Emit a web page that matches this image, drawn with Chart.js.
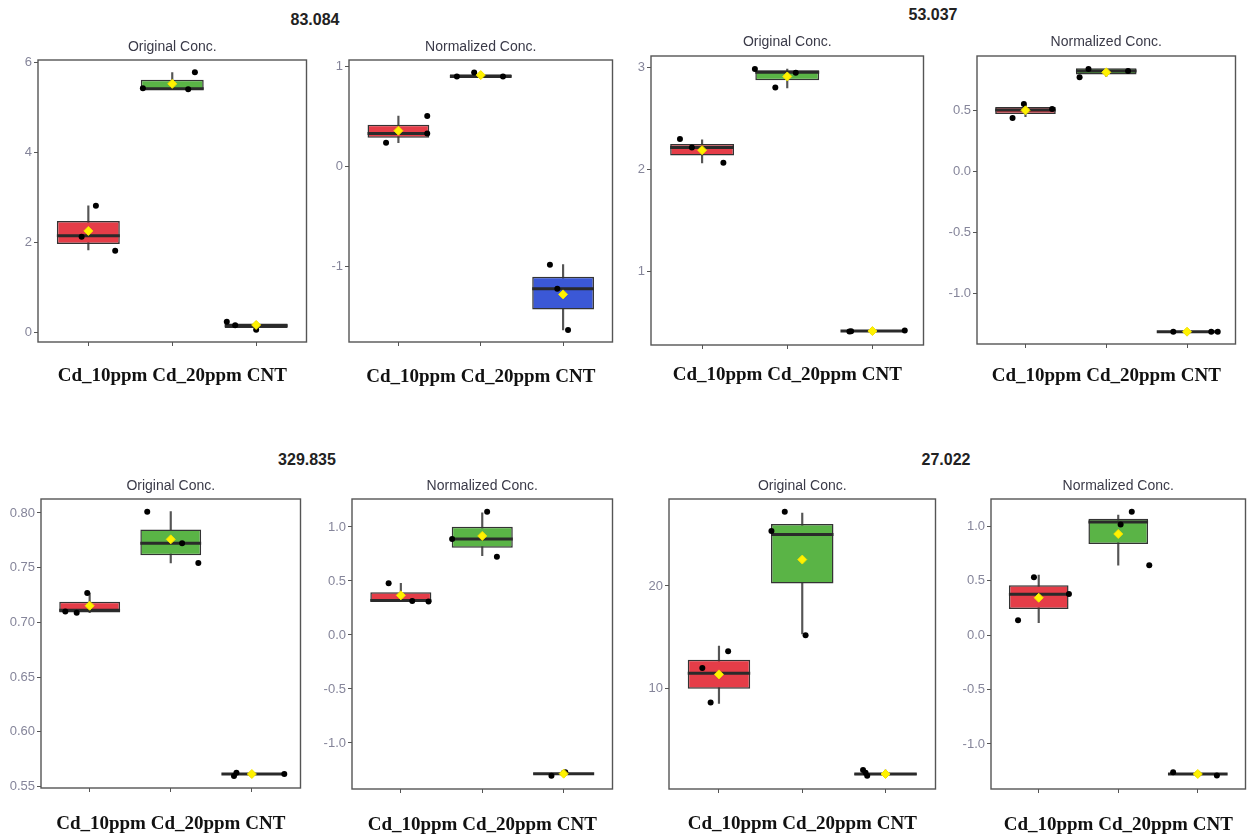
<!DOCTYPE html>
<html><head><meta charset="utf-8">
<script src="https://cdn.jsdelivr.net/npm/chart.js@4/dist/chart.umd.min.js"></script>
<style>
html,body{margin:0;padding:0;background:#fff;width:1248px;height:839px;overflow:hidden;position:relative;font-family:"Liberation Sans",Arial,sans-serif;}
canvas{position:absolute;}
.grp{position:absolute;font-weight:bold;font-size:16px;color:#222;transform:translate(-50%,-50%);white-space:nowrap;}
</style></head><body>
<script>
// ---------- DATA ----------
const groupTitles = ["83.084", "53.037", "329.835", "27.022"];
const panelTitles = ["Original Conc.", "Normalized Conc.", "Original Conc.", "Normalized Conc.",
                     "Original Conc.", "Normalized Conc.", "Original Conc.", "Normalized Conc."];
const categories = ["Cd_10ppm", "Cd_20ppm", "CNT"];

// box statistics per panel: [Cd_10ppm, Cd_20ppm, CNT]
const q1 = [
  [1.97, 5.40, 0.10], [0.29, 0.894, -1.427], [2.137, 2.876, 0.411], [0.472, 0.797, -1.317],
  [0.7091, 0.7614, 0.5608], [0.309, 0.808, -1.29], [10.0, 20.23, 1.6], [0.239, 0.835, -1.28]];
const med = [
  [2.15, 5.42, 0.15], [0.333, 0.903, -1.22], [2.216, 2.955, 0.414], [0.505, 0.825, -1.315],
  [0.7110, 0.7723, 0.5613], [0.32, 0.889, -1.285], [11.5, 24.99, 1.72], [0.373, 1.038, -1.275]];
const q3 = [
  [2.48, 5.62, 0.20], [0.42, 0.925, -1.10], [2.25, 2.974, 0.418], [0.53, 0.847, -1.313],
  [0.7188, 0.7848, 0.5618], [0.395, 1.003, -1.28], [12.82, 26.02, 1.8], [0.456, 1.066, -1.27]];
const lo = [
  [1.84, 5.40, 0.06], [0.24, 0.894, -1.633], [2.065, 2.80, 0.41], [0.45, 0.78, -1.317],
  [0.7088, 0.7543, 0.5594], [0.309, 0.735, -1.303], [8.58, 15.34, 1.5], [0.113, 0.64, -1.29]];
const hi = [
  [2.82, 5.78, 0.24], [0.507, 0.943, -0.98], [2.29, 2.986, 0.42], [0.55, 0.841, -1.313],
  [0.7268, 0.8012, 0.5625], [0.479, 1.13, -1.272], [14.15, 27.09, 2.11], [0.55, 1.10, -1.26]];
const means = [
  [2.26, 5.53, 0.17], [0.36, 0.916, -1.277], [2.19, 2.913, 0.414], [0.502, 0.814, -1.315],
  [0.7152, 0.7759, 0.5613], [0.367, 0.917, -1.284], [11.40, 22.56, 1.72], [0.342, 0.927, -1.275]];
// individual samples per panel / category
const samples = [
  [[2.82, 2.13, 1.82], [5.43, 5.41, 5.79], [0.24, 0.16, 0.06]],
  [[0.24, 0.507, 0.333], [0.903, 0.943, 0.903], [-0.98, -1.22, -1.633]],
  [[2.30, 2.216, 2.065], [2.986, 2.804, 2.95], [0.41, 0.413, 0.42]],
  [[0.44, 0.554, 0.513], [0.773, 0.841, 0.825], [-1.315, -1.315, -1.316]],
  [[0.7100, 0.7088, 0.7268], [0.8012, 0.7723, 0.7543], [0.5594, 0.5625, 0.5613]],
  [[0.479, 0.315, 0.309], [0.889, 1.142, 0.725], [-1.303, -1.278, -1.272]],
  [[12.01, 8.68, 13.66], [25.34, 27.22, 15.21], [2.11, 1.85, 1.55]],
  [[0.135, 0.529, 0.376], [1.015, 1.131, 0.64], [-1.26, -1.29, -1.275]]];
// horizontal jitter of the samples (category units)
const jitter = [
  [[0.09, -0.08, 0.32], [-0.35, 0.19, 0.27], [-0.35, -0.25, 0.0]],
  [[-0.15, 0.35, 0.35], [-0.29, -0.08, 0.27], [-0.16, -0.07, 0.06]],
  [[-0.26, -0.12, 0.25], [-0.38, -0.14, 0.10], [-0.27, -0.25, 0.38]],
  [[-0.16, -0.02, 0.33], [-0.33, -0.22, 0.27], [-0.17, 0.30, 0.38]],
  [[-0.30, -0.16, -0.03], [-0.29, 0.14, 0.34], [-0.22, -0.19, 0.40]],
  [[-0.15, 0.14, 0.34], [-0.37, 0.06, 0.18], [-0.15, 0.0, 0.02]],
  [[-0.20, -0.10, 0.11], [-0.37, -0.21, 0.04], [-0.27, -0.24, -0.22]],
  [[-0.26, -0.06, 0.38], [0.03, 0.17, 0.39], [-0.31, 0.24, 0.0]]];
// y axis ranges and ticks
const yMin = [-0.21, -1.753, 0.277, -1.416, 0.5485, -1.426, 0.26, -1.413];
const yMax = [6.06, 1.067, 3.114, 0.948, 0.8128, 1.259, 28.45, 1.248];
const yTicks = [[0, 2, 4, 6], [-1, 0, 1], [1, 2, 3], [-1, -0.5, 0, 0.5],
  [0.55, 0.60, 0.65, 0.70, 0.75, 0.80], [-1, -0.5, 0, 0.5, 1], [10, 20], [-1, -0.5, 0, 0.5, 1]];
const yTickLabels = [["0", "2", "4", "6"], ["-1", "0", "1"], ["1", "2", "3"], ["-1.0", "-0.5", "0.0", "0.5"],
  ["0.55", "0.60", "0.65", "0.70", "0.75", "0.80"], ["-1.0", "-0.5", "0.0", "0.5", "1.0"], ["10", "20"],
  ["-1.0", "-0.5", "0.0", "0.5", "1.0"]];

// ---------- LAYOUT / STYLE ----------
const LAYOUT = [
  {L: 38, R: 307, T: 60, B: 342, tY: 47, lY: 376},
  {L: 349, R: 613, T: 60, B: 342, tY: 47, lY: 377},
  {L: 651, R: 924, T: 56, B: 345, tY: 42, lY: 375},
  {L: 977, R: 1236, T: 56, B: 344, tY: 42, lY: 376},
  {L: 41, R: 301, T: 499, B: 788, tY: 486, lY: 824},
  {L: 352, R: 613, T: 499, B: 789, tY: 486, lY: 825},
  {L: 669, R: 936, T: 499, B: 789, tY: 486, lY: 824},
  {L: 991, R: 1246, T: 499, B: 789, tY: 486, lY: 825}];
const GROUP_POS = [[315, 20], [933, 15], [307, 460], [946, 460]];
const FILLS = ['#E53D48', '#5AB446', '#3B58D6'];

groupTitles.forEach((t, i) => {
  const d = document.createElement('div');
  d.className = 'grp'; d.textContent = t;
  d.style.left = GROUP_POS[i][0] + 'px'; d.style.top = GROUP_POS[i][1] + 'px';
  document.body.appendChild(d);
});

const borderPlugin = {
  id: 'panelBorder',
  afterDatasetsDraw(chart) {
    const {ctx, chartArea: a} = chart;
    ctx.save();
    ctx.strokeStyle = '#555';
    ctx.lineWidth = 1.4;
    ctx.strokeRect(a.left, a.top, a.right - a.left, a.bottom - a.top);
    ctx.restore();
  }
};

const YW = 40, PADR = 5, ABOVE = 20, BELOW = 20;
const xs = [1, 2, 3];

for (let i = 0; i < 8; i++) {
  const g = LAYOUT[i];
  const cl = g.L - YW, ct = g.tY - ABOVE;
  const cw = g.R + PADR - cl, ch = g.lY + BELOW - ct;
  const canvas = document.createElement('canvas');
  canvas.width = cw; canvas.height = ch;
  canvas.style.left = cl + 'px'; canvas.style.top = ct + 'px';
  canvas.style.width = cw + 'px'; canvas.style.height = ch + 'px';
  document.body.appendChild(canvas);

  const whiskerData = xs.map((x, k) => ({x, y: [lo[i][k], hi[i][k]]}));
  const boxData = xs.map((x, k) => ({x, y: [q1[i][k], q3[i][k]]}));
  const medData = [];
  xs.forEach((x, k) => {
    medData.push({x: x - 0.375, y: med[i][k]}, {x: x + 0.375, y: med[i][k]}, {x: x + 0.5, y: null});
  });
  const ptData = [];
  xs.forEach((x, k) => samples[i][k].forEach((v, j) => ptData.push({x: x + jitter[i][k][j], y: v})));
  const meanData = xs.map((x, k) => ({x, y: means[i][k]}));

  new Chart(canvas, {
    type: 'bar',
    data: {datasets: [
      {type: 'bar', data: whiskerData, backgroundColor: '#555', borderWidth: 0, barThickness: 1.5, grouped: false, order: 4},
      {type: 'bar', data: boxData, backgroundColor: FILLS, borderColor: '#333', borderWidth: 1.5, borderSkipped: false,
       barPercentage: 0.75, categoryPercentage: 1, grouped: false, order: 3},
      {type: 'line', data: medData, borderColor: '#2a2a2a', borderWidth: 3, pointRadius: 0, spanGaps: false, order: 2},
      {type: 'scatter', data: ptData, backgroundColor: '#000', borderColor: '#000', pointRadius: 3, borderWidth: 0, order: 1},
      {type: 'scatter', data: meanData, pointStyle: 'rectRot', backgroundColor: '#FFF200', borderColor: '#F2E200',
       pointRadius: 4.5, borderWidth: 1, order: 0}
    ]},
    options: {
      responsive: false, animation: false, devicePixelRatio: 1,
      layout: {padding: {left: 0, right: PADR, top: 0, bottom: 0}},
      plugins: {
        legend: {display: false}, tooltip: {enabled: false},
        title: {display: true, text: panelTitles[i], fullSize: false, color: '#3a3a48',
          font: {family: 'Liberation Sans', size: 14, weight: 'normal', lineHeight: 1.2},
          padding: {top: ABOVE - 8.4, bottom: g.T - g.tY - 8.4}}
      },
      scales: {
        x: {
          type: 'linear', min: 0.4, max: 3.6, offset: false,
          afterBuildTicks: s => { s.ticks = xs.map(v => ({value: v})); },
          afterFit: s => { s.height = g.lY + BELOW - g.B; },
          border: {display: false},
          grid: {display: true, offset: false, drawOnChartArea: false, drawTicks: true, tickLength: 4, color: '#555'},
          ticks: {display: false},
          title: {display: true, text: categories.join(' '), color: '#111',
            font: {family: 'Liberation Serif', size: 19, weight: 'bold', lineHeight: 1.2},
            padding: {top: 0, bottom: BELOW - 11.4}}
        },
        y: {
          type: 'linear', min: yMin[i], max: yMax[i],
          afterBuildTicks: s => { s.ticks = yTicks[i].map(v => ({value: v})); },
          afterFit: s => { s.width = YW; },
          border: {display: false},
          grid: {display: true, offset: false, drawOnChartArea: false, drawTicks: true, tickLength: 4, color: '#555'},
          ticks: {color: '#85859a', padding: 2, autoSkip: false,
            font: {family: 'Liberation Sans', size: 13},
            callback: (v, idx) => yTickLabels[i][idx]}
        }
      }
    },
    plugins: [borderPlugin]
  });
}
</script>
</body></html>
